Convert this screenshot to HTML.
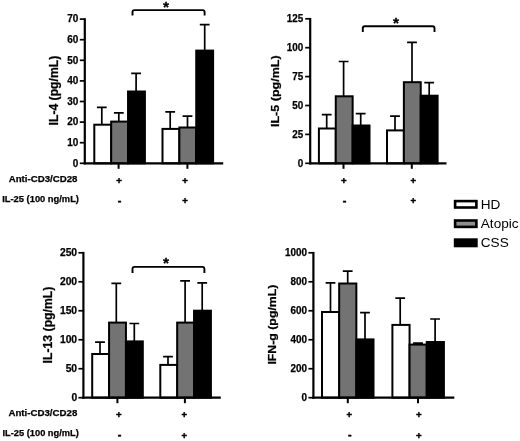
<!DOCTYPE html>
<html lang="en">
<head>
<meta charset="utf-8">
<title>Cytokine production figure</title>
<style>
html,body{margin:0;padding:0;background:#fff;}
body{width:520px;height:441px;overflow:hidden;}
svg{display:block;font-family:"Liberation Sans",Arial,Helvetica,sans-serif;fill:#000;}
svg text{fill:#000;}
</style>
</head>
<body>
<svg width="520" height="441" viewBox="0 0 520 441">
<defs><filter id="soft" x="0" y="0" width="520" height="441" filterUnits="userSpaceOnUse"><feGaussianBlur stdDeviation="0.35"/></filter></defs>
<rect x="0" y="0" width="520" height="441" fill="#ffffff"/>
<g filter="url(#soft)">
<g>
<path d="M101.80 124.70V107.30M96.90 107.30H106.70" fill="none" stroke="#000" stroke-width="1.7"/>
<path d="M118.80 121.60V112.90M113.90 112.90H123.70" fill="none" stroke="#000" stroke-width="1.7"/>
<path d="M136.10 91.50V73.40M131.20 73.40H141.00" fill="none" stroke="#000" stroke-width="1.7"/>
<path d="M170.20 128.90V111.90M165.30 111.90H175.10" fill="none" stroke="#000" stroke-width="1.7"/>
<path d="M187.50 127.50V116.10M182.60 116.10H192.40" fill="none" stroke="#000" stroke-width="1.7"/>
<path d="M204.70 50.60V24.60M199.80 24.60H209.60" fill="none" stroke="#000" stroke-width="1.7"/>
<rect x="94.30" y="124.70" width="16.87" height="38.60" fill="#ffffff" stroke="#000" stroke-width="2.0"/>
<rect x="111.17" y="121.60" width="16.87" height="41.70" fill="#737373" stroke="#000" stroke-width="2.0"/>
<rect x="128.04" y="91.50" width="16.87" height="71.80" fill="#000000" stroke="#000" stroke-width="2.0"/>
<rect x="162.50" y="128.90" width="16.87" height="34.40" fill="#ffffff" stroke="#000" stroke-width="2.0"/>
<rect x="179.37" y="127.50" width="16.87" height="35.80" fill="#737373" stroke="#000" stroke-width="2.0"/>
<rect x="196.24" y="50.60" width="16.87" height="112.70" fill="#000000" stroke="#000" stroke-width="2.0"/>
<path d="M84.80 18.20V164.40" stroke="#000" stroke-width="2.2" fill="none"/>
<path d="M83.70 163.30H223.20" stroke="#000" stroke-width="2.2" fill="none"/>
<path d="M79.80 163.30H84.80" stroke="#000" stroke-width="1.7" fill="none"/>
<text x="78.30" y="166.63" font-size="10.4" font-weight="bold" stroke="#000" stroke-width="0.25" text-anchor="end" textLength="5.55" lengthAdjust="spacingAndGlyphs">0</text>
<path d="M79.80 142.70H84.80" stroke="#000" stroke-width="1.7" fill="none"/>
<text x="78.30" y="146.03" font-size="10.4" font-weight="bold" stroke="#000" stroke-width="0.25" text-anchor="end" textLength="11.10" lengthAdjust="spacingAndGlyphs">10</text>
<path d="M79.80 122.10H84.80" stroke="#000" stroke-width="1.7" fill="none"/>
<text x="78.30" y="125.43" font-size="10.4" font-weight="bold" stroke="#000" stroke-width="0.25" text-anchor="end" textLength="11.10" lengthAdjust="spacingAndGlyphs">20</text>
<path d="M79.80 101.50H84.80" stroke="#000" stroke-width="1.7" fill="none"/>
<text x="78.30" y="104.83" font-size="10.4" font-weight="bold" stroke="#000" stroke-width="0.25" text-anchor="end" textLength="11.10" lengthAdjust="spacingAndGlyphs">30</text>
<path d="M79.80 80.90H84.80" stroke="#000" stroke-width="1.7" fill="none"/>
<text x="78.30" y="84.23" font-size="10.4" font-weight="bold" stroke="#000" stroke-width="0.25" text-anchor="end" textLength="11.10" lengthAdjust="spacingAndGlyphs">40</text>
<path d="M79.80 60.30H84.80" stroke="#000" stroke-width="1.7" fill="none"/>
<text x="78.30" y="63.63" font-size="10.4" font-weight="bold" stroke="#000" stroke-width="0.25" text-anchor="end" textLength="11.10" lengthAdjust="spacingAndGlyphs">50</text>
<path d="M79.80 39.70H84.80" stroke="#000" stroke-width="1.7" fill="none"/>
<text x="78.30" y="43.03" font-size="10.4" font-weight="bold" stroke="#000" stroke-width="0.25" text-anchor="end" textLength="11.10" lengthAdjust="spacingAndGlyphs">60</text>
<path d="M79.80 19.10H84.80" stroke="#000" stroke-width="1.7" fill="none"/>
<text x="78.30" y="22.43" font-size="10.4" font-weight="bold" stroke="#000" stroke-width="0.25" text-anchor="end" textLength="11.10" lengthAdjust="spacingAndGlyphs">70</text>
<path d="M118.60 163.30V168.80" stroke="#000" stroke-width="2.0" fill="none"/>
<path d="M187.40 163.30V168.80" stroke="#000" stroke-width="2.0" fill="none"/>
<text transform="translate(58.30 90.60) rotate(-90)" font-size="12.2" font-weight="bold" stroke="#000" stroke-width="0.25" text-anchor="middle" textLength="69.6" lengthAdjust="spacingAndGlyphs">IL-4 (pg/mL)</text>
<path d="M132.50 15.60V12.10Q132.50 10.10 134.50 10.10H202.60Q204.60 10.10 204.60 12.10V15.60" fill="none" stroke="#000" stroke-width="1.9"/>
<text x="166.10" y="12" font-size="15.4" font-weight="bold" stroke="#000" stroke-width="0.3" text-anchor="middle">*</text>
<text x="119.00" y="183.50" font-size="9.6" font-weight="bold" stroke="#000" stroke-width="0.45" text-anchor="middle">+</text>
<text x="185.10" y="183.50" font-size="9.6" font-weight="bold" stroke="#000" stroke-width="0.45" text-anchor="middle">+</text>
<text x="119.60" y="204.20" font-size="10.799999999999999" font-weight="bold" stroke="#000" stroke-width="0.45" text-anchor="middle">-</text>
<text x="185.10" y="204.30" font-size="9.6" font-weight="bold" stroke="#000" stroke-width="0.45" text-anchor="middle">+</text>
<text x="8.70" y="181.90" font-size="9.3" font-weight="bold" stroke="#000" stroke-width="0.25" textLength="68.80" lengthAdjust="spacingAndGlyphs">Anti-CD3/CD28</text>
<text x="2.20" y="202.20" font-size="9.3" font-weight="bold" stroke="#000" stroke-width="0.25" textLength="76.80" lengthAdjust="spacingAndGlyphs">IL-25 (100 ng/mL)</text>
</g>
<g>
<path d="M326.70 128.50V114.70M321.80 114.70H331.60" fill="none" stroke="#000" stroke-width="1.7"/>
<path d="M343.60 96.30V61.50M338.70 61.50H348.50" fill="none" stroke="#000" stroke-width="1.7"/>
<path d="M360.70 125.50V113.70M355.80 113.70H365.60" fill="none" stroke="#000" stroke-width="1.7"/>
<path d="M395.00 130.40V116.20M390.10 116.20H399.90" fill="none" stroke="#000" stroke-width="1.7"/>
<path d="M412.00 82.20V42.40M407.10 42.40H416.90" fill="none" stroke="#000" stroke-width="1.7"/>
<path d="M429.20 95.70V82.60M424.30 82.60H434.10" fill="none" stroke="#000" stroke-width="1.7"/>
<rect x="318.90" y="128.50" width="16.87" height="34.80" fill="#ffffff" stroke="#000" stroke-width="2.0"/>
<rect x="335.77" y="96.30" width="16.87" height="67.00" fill="#737373" stroke="#000" stroke-width="2.0"/>
<rect x="352.64" y="125.50" width="16.87" height="37.80" fill="#000000" stroke="#000" stroke-width="2.0"/>
<rect x="387.00" y="130.40" width="16.87" height="32.90" fill="#ffffff" stroke="#000" stroke-width="2.0"/>
<rect x="403.87" y="82.20" width="16.87" height="81.10" fill="#737373" stroke="#000" stroke-width="2.0"/>
<rect x="420.74" y="95.70" width="16.87" height="67.60" fill="#000000" stroke="#000" stroke-width="2.0"/>
<path d="M310.20 17.90V164.40" stroke="#000" stroke-width="2.2" fill="none"/>
<path d="M309.10 163.30H446.50" stroke="#000" stroke-width="2.2" fill="none"/>
<path d="M305.20 163.30H310.20" stroke="#000" stroke-width="1.7" fill="none"/>
<text x="303.30" y="166.63" font-size="10.4" font-weight="bold" stroke="#000" stroke-width="0.25" text-anchor="end" textLength="5.49" lengthAdjust="spacingAndGlyphs">0</text>
<path d="M305.20 134.40H310.20" stroke="#000" stroke-width="1.7" fill="none"/>
<text x="303.30" y="137.73" font-size="10.4" font-weight="bold" stroke="#000" stroke-width="0.25" text-anchor="end" textLength="10.99" lengthAdjust="spacingAndGlyphs">25</text>
<path d="M305.20 105.50H310.20" stroke="#000" stroke-width="1.7" fill="none"/>
<text x="303.30" y="108.83" font-size="10.4" font-weight="bold" stroke="#000" stroke-width="0.25" text-anchor="end" textLength="10.99" lengthAdjust="spacingAndGlyphs">50</text>
<path d="M305.20 76.60H310.20" stroke="#000" stroke-width="1.7" fill="none"/>
<text x="303.30" y="79.93" font-size="10.4" font-weight="bold" stroke="#000" stroke-width="0.25" text-anchor="end" textLength="10.99" lengthAdjust="spacingAndGlyphs">75</text>
<path d="M305.20 47.70H310.20" stroke="#000" stroke-width="1.7" fill="none"/>
<text x="303.30" y="51.03" font-size="10.4" font-weight="bold" stroke="#000" stroke-width="0.25" text-anchor="end" textLength="16.48" lengthAdjust="spacingAndGlyphs">100</text>
<path d="M305.20 18.80H310.20" stroke="#000" stroke-width="1.7" fill="none"/>
<text x="303.30" y="22.13" font-size="10.4" font-weight="bold" stroke="#000" stroke-width="0.25" text-anchor="end" textLength="16.48" lengthAdjust="spacingAndGlyphs">125</text>
<path d="M343.50 163.30V168.80" stroke="#000" stroke-width="2.0" fill="none"/>
<path d="M411.80 163.30V168.80" stroke="#000" stroke-width="2.0" fill="none"/>
<text transform="translate(278.50 91.20) rotate(-90)" font-size="11.6" font-weight="bold" stroke="#000" stroke-width="0.25" text-anchor="middle" textLength="71.6" lengthAdjust="spacingAndGlyphs">IL-5 (pg/mL)</text>
<path d="M362.80 31.90V28.30Q362.80 26.30 364.80 26.30H432.50Q434.50 26.30 434.50 28.30V31.90" fill="none" stroke="#000" stroke-width="1.9"/>
<text x="396.00" y="28" font-size="15.4" font-weight="bold" stroke="#000" stroke-width="0.3" text-anchor="middle">*</text>
<text x="343.90" y="183.50" font-size="9.6" font-weight="bold" stroke="#000" stroke-width="0.45" text-anchor="middle">+</text>
<text x="413.20" y="183.50" font-size="9.6" font-weight="bold" stroke="#000" stroke-width="0.45" text-anchor="middle">+</text>
<text x="344.50" y="204.20" font-size="10.799999999999999" font-weight="bold" stroke="#000" stroke-width="0.45" text-anchor="middle">-</text>
<text x="413.20" y="204.30" font-size="9.6" font-weight="bold" stroke="#000" stroke-width="0.45" text-anchor="middle">+</text>
</g>
<g>
<path d="M100.00 354.00V342.10M95.10 342.10H104.90" fill="none" stroke="#000" stroke-width="1.7"/>
<path d="M116.30 322.60V283.30M111.40 283.30H121.20" fill="none" stroke="#000" stroke-width="1.7"/>
<path d="M134.30 341.40V323.50M129.40 323.50H139.20" fill="none" stroke="#000" stroke-width="1.7"/>
<path d="M168.00 364.90V356.70M163.10 356.70H172.90" fill="none" stroke="#000" stroke-width="1.7"/>
<path d="M185.10 322.60V280.80M180.20 280.80H190.00" fill="none" stroke="#000" stroke-width="1.7"/>
<path d="M202.20 310.70V282.90M197.30 282.90H207.10" fill="none" stroke="#000" stroke-width="1.7"/>
<rect x="92.20" y="354.00" width="16.87" height="43.70" fill="#ffffff" stroke="#000" stroke-width="2.0"/>
<rect x="109.07" y="322.60" width="16.87" height="75.10" fill="#737373" stroke="#000" stroke-width="2.0"/>
<rect x="125.94" y="341.40" width="16.87" height="56.30" fill="#000000" stroke="#000" stroke-width="2.0"/>
<rect x="160.30" y="364.90" width="16.87" height="32.80" fill="#ffffff" stroke="#000" stroke-width="2.0"/>
<rect x="177.17" y="322.60" width="16.87" height="75.10" fill="#737373" stroke="#000" stroke-width="2.0"/>
<rect x="194.04" y="310.70" width="16.87" height="87.00" fill="#000000" stroke="#000" stroke-width="2.0"/>
<path d="M83.40 251.90V398.80" stroke="#000" stroke-width="2.2" fill="none"/>
<path d="M82.30 397.70H220.80" stroke="#000" stroke-width="2.2" fill="none"/>
<path d="M78.40 397.70H83.40" stroke="#000" stroke-width="1.7" fill="none"/>
<text x="77.10" y="401.03" font-size="10.4" font-weight="bold" stroke="#000" stroke-width="0.25" text-anchor="end" textLength="5.72" lengthAdjust="spacingAndGlyphs">0</text>
<path d="M78.40 368.72H83.40" stroke="#000" stroke-width="1.7" fill="none"/>
<text x="77.10" y="372.05" font-size="10.4" font-weight="bold" stroke="#000" stroke-width="0.25" text-anchor="end" textLength="11.45" lengthAdjust="spacingAndGlyphs">50</text>
<path d="M78.40 339.74H83.40" stroke="#000" stroke-width="1.7" fill="none"/>
<text x="77.10" y="343.07" font-size="10.4" font-weight="bold" stroke="#000" stroke-width="0.25" text-anchor="end" textLength="17.17" lengthAdjust="spacingAndGlyphs">100</text>
<path d="M78.40 310.76H83.40" stroke="#000" stroke-width="1.7" fill="none"/>
<text x="77.10" y="314.09" font-size="10.4" font-weight="bold" stroke="#000" stroke-width="0.25" text-anchor="end" textLength="17.17" lengthAdjust="spacingAndGlyphs">150</text>
<path d="M78.40 281.78H83.40" stroke="#000" stroke-width="1.7" fill="none"/>
<text x="77.10" y="285.11" font-size="10.4" font-weight="bold" stroke="#000" stroke-width="0.25" text-anchor="end" textLength="17.17" lengthAdjust="spacingAndGlyphs">200</text>
<path d="M78.40 252.80H83.40" stroke="#000" stroke-width="1.7" fill="none"/>
<text x="77.10" y="256.13" font-size="10.4" font-weight="bold" stroke="#000" stroke-width="0.25" text-anchor="end" textLength="17.17" lengthAdjust="spacingAndGlyphs">250</text>
<path d="M117.40 397.70V403.20" stroke="#000" stroke-width="2.0" fill="none"/>
<path d="M184.90 397.70V403.20" stroke="#000" stroke-width="2.0" fill="none"/>
<text transform="translate(52.30 325.00) rotate(-90)" font-size="12.0" font-weight="bold" stroke="#000" stroke-width="0.25" text-anchor="middle" textLength="76.8" lengthAdjust="spacingAndGlyphs">IL-13 (pg/mL)</text>
<path d="M132.50 272.90V268.90Q132.50 266.90 134.50 266.90H202.40Q204.40 266.90 204.40 268.90V272.90" fill="none" stroke="#000" stroke-width="1.9"/>
<text x="166.10" y="268" font-size="15.4" font-weight="bold" stroke="#000" stroke-width="0.3" text-anchor="middle">*</text>
<text x="118.90" y="417.55" font-size="9.6" font-weight="bold" stroke="#000" stroke-width="0.45" text-anchor="middle">+</text>
<text x="184.30" y="417.55" font-size="9.6" font-weight="bold" stroke="#000" stroke-width="0.45" text-anchor="middle">+</text>
<text x="119.50" y="437.90" font-size="10.799999999999999" font-weight="bold" stroke="#000" stroke-width="0.45" text-anchor="middle">-</text>
<text x="184.30" y="438.60" font-size="9.6" font-weight="bold" stroke="#000" stroke-width="0.45" text-anchor="middle">+</text>
<text x="8.40" y="415.60" font-size="9.3" font-weight="bold" stroke="#000" stroke-width="0.25" textLength="68.90" lengthAdjust="spacingAndGlyphs">Anti-CD3/CD28</text>
<text x="2.50" y="436.40" font-size="9.3" font-weight="bold" stroke="#000" stroke-width="0.25" textLength="76.30" lengthAdjust="spacingAndGlyphs">IL-25 (100 ng/mL)</text>
</g>
<g>
<path d="M330.50 312.00V282.90M325.60 282.90H335.40" fill="none" stroke="#000" stroke-width="1.7"/>
<path d="M347.70 283.50V271.20M342.80 271.20H352.60" fill="none" stroke="#000" stroke-width="1.7"/>
<path d="M365.00 339.40V312.60M360.10 312.60H369.90" fill="none" stroke="#000" stroke-width="1.7"/>
<path d="M400.20 324.90V298.20M395.30 298.20H405.10" fill="none" stroke="#000" stroke-width="1.7"/>
<path d="M418.00 344.60V343.10M413.10 343.10H422.90" fill="none" stroke="#000" stroke-width="1.7"/>
<path d="M435.10 342.00V319.00M430.20 319.00H440.00" fill="none" stroke="#000" stroke-width="1.7"/>
<rect x="322.00" y="312.00" width="17.17" height="85.70" fill="#ffffff" stroke="#000" stroke-width="2.0"/>
<rect x="339.17" y="283.50" width="17.17" height="114.20" fill="#737373" stroke="#000" stroke-width="2.0"/>
<rect x="356.34" y="339.40" width="17.17" height="58.30" fill="#000000" stroke="#000" stroke-width="2.0"/>
<rect x="392.40" y="324.90" width="17.17" height="72.80" fill="#ffffff" stroke="#000" stroke-width="2.0"/>
<rect x="409.57" y="344.60" width="17.17" height="53.10" fill="#737373" stroke="#000" stroke-width="2.0"/>
<rect x="426.74" y="342.00" width="17.17" height="55.70" fill="#000000" stroke="#000" stroke-width="2.0"/>
<path d="M313.40 251.90V398.80" stroke="#000" stroke-width="2.2" fill="none"/>
<path d="M312.30 397.70H454.30" stroke="#000" stroke-width="2.2" fill="none"/>
<path d="M308.40 397.70H313.40" stroke="#000" stroke-width="1.7" fill="none"/>
<text x="306.90" y="401.03" font-size="10.4" font-weight="bold" stroke="#000" stroke-width="0.25" text-anchor="end" textLength="5.49" lengthAdjust="spacingAndGlyphs">0</text>
<path d="M308.40 368.72H313.40" stroke="#000" stroke-width="1.7" fill="none"/>
<text x="306.90" y="372.05" font-size="10.4" font-weight="bold" stroke="#000" stroke-width="0.25" text-anchor="end" textLength="16.48" lengthAdjust="spacingAndGlyphs">200</text>
<path d="M308.40 339.74H313.40" stroke="#000" stroke-width="1.7" fill="none"/>
<text x="306.90" y="343.07" font-size="10.4" font-weight="bold" stroke="#000" stroke-width="0.25" text-anchor="end" textLength="16.48" lengthAdjust="spacingAndGlyphs">400</text>
<path d="M308.40 310.76H313.40" stroke="#000" stroke-width="1.7" fill="none"/>
<text x="306.90" y="314.09" font-size="10.4" font-weight="bold" stroke="#000" stroke-width="0.25" text-anchor="end" textLength="16.48" lengthAdjust="spacingAndGlyphs">600</text>
<path d="M308.40 281.78H313.40" stroke="#000" stroke-width="1.7" fill="none"/>
<text x="306.90" y="285.11" font-size="10.4" font-weight="bold" stroke="#000" stroke-width="0.25" text-anchor="end" textLength="16.48" lengthAdjust="spacingAndGlyphs">800</text>
<path d="M308.40 252.80H313.40" stroke="#000" stroke-width="1.7" fill="none"/>
<text x="306.90" y="256.13" font-size="10.4" font-weight="bold" stroke="#000" stroke-width="0.25" text-anchor="end" textLength="21.97" lengthAdjust="spacingAndGlyphs">1000</text>
<path d="M347.80 397.70V403.20" stroke="#000" stroke-width="2.0" fill="none"/>
<path d="M418.00 397.70V403.20" stroke="#000" stroke-width="2.0" fill="none"/>
<text transform="translate(275.60 324.60) rotate(-90)" font-size="11.2" font-weight="bold" stroke="#000" stroke-width="0.25" text-anchor="middle" textLength="80.0" lengthAdjust="spacingAndGlyphs">IFN-g (pg/mL)</text>
<text x="349.30" y="417.55" font-size="9.6" font-weight="bold" stroke="#000" stroke-width="0.45" text-anchor="middle">+</text>
<text x="418.80" y="417.55" font-size="9.6" font-weight="bold" stroke="#000" stroke-width="0.45" text-anchor="middle">+</text>
<text x="349.90" y="437.90" font-size="10.799999999999999" font-weight="bold" stroke="#000" stroke-width="0.45" text-anchor="middle">-</text>
<text x="418.80" y="438.60" font-size="9.6" font-weight="bold" stroke="#000" stroke-width="0.45" text-anchor="middle">+</text>
</g>
<rect x="455.1" y="201.10" width="21.3" height="6.4" fill="#fff" stroke="#000" stroke-width="2.6"/>
<text x="480.8" y="208.60" font-size="13.6">HD</text>
<rect x="455.1" y="220.50" width="21.3" height="6.4" fill="#8e8e8e" stroke="#000" stroke-width="2.6"/>
<text x="480.8" y="227.80" font-size="13.6">Atopic</text>
<rect x="455.1" y="239.60" width="21.3" height="6.4" fill="#000" stroke="#000" stroke-width="2.6"/>
<text x="480.8" y="246.80" font-size="13.6">CSS</text>
</g>
</svg>
</body>
</html>
